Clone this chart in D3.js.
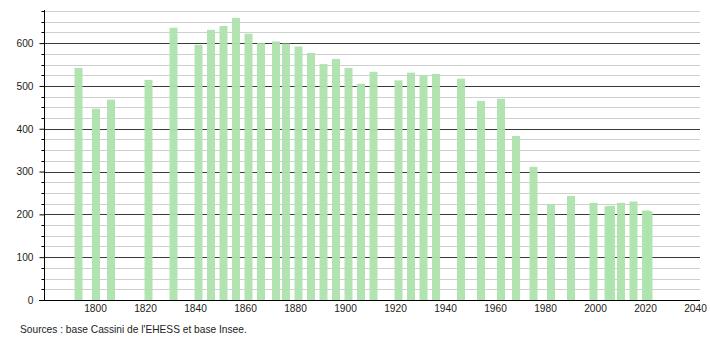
<!DOCTYPE html>
<html>
<head>
<meta charset="utf-8">
<script src="https://cdn.jsdelivr.net/npm/d3@7"></script>
<style>
  body { margin: 0; background: #fff; }
  svg { display: block; font-family: "Liberation Sans", Arial, sans-serif; }
  .grid-minor { stroke: #cfcfcf; stroke-width: 1; }
  .grid-major { stroke: #3a3a3a; stroke-width: 1; }
</style>
</head>
<body>
<svg width="710" height="340"></svg>
<script>
// années des recensements
const years = [1793, 1800, 1806, 1821, 1831, 1841, 1846, 1851, 1856, 1861,
    1866, 1872, 1876, 1881, 1886, 1891, 1896, 1901, 1906, 1911,
    1921, 1926, 1931, 1936, 1946, 1954, 1962, 1968, 1975, 1982,
    1990, 1999, 2005, 2006, 2010, 2015, 2020, 2021];
// population
const population = [542, 447, 468, 514, 636, 596, 631, 640, 659, 622,
    600, 604, 599, 592, 577, 551, 563, 542, 505, 533,
    513, 531, 525, 528, 517, 465, 470, 383, 311, 224,
    243, 227, 219, 220, 227, 230, 209, 207];
const xTicks = [1800, 1820, 1840, 1860, 1880, 1900, 1920, 1940, 1960, 1980, 2000, 2020, 2040];
const yTicks = [0, 100, 200, 300, 400, 500, 600];
const source = "Sources : base Cassini de l'EHESS et base Insee.";

const svg = d3.select("svg");
const plotLeft = 44, plotRight = 700, plotBottom = 300, plotTop = 10;

const scaleX = d3.scaleLinear().domain([1780, 2042]).range([45, 700]);
const scaleY = d3.scaleLinear().domain([0, 675]).range([plotBottom, 11]);

// lignes de grille (mineures tous les 25, majeures tous les 100)
const minor = d3.range(25, 676, 25).filter(v => v % 100 !== 0);
svg.append("g").selectAll("line")
    .data(minor)
    .enter()
    .append("line")
    .attr("class", "grid-minor")
    .attr("x1", plotLeft)
    .attr("x2", plotRight)
    .attr("y1", d => Math.round(scaleY(d)) + 0.5)
    .attr("y2", d => Math.round(scaleY(d)) + 0.5);

svg.append("g").selectAll("line")
    .data(yTicks.filter(v => v > 0))
    .enter()
    .append("line")
    .attr("class", "grid-major")
    .attr("x1", plotLeft)
    .attr("x2", plotRight)
    .attr("y1", d => Math.round(scaleY(d)) + 0.5)
    .attr("y2", d => Math.round(scaleY(d)) + 0.5);

// barres
svg.append("g").selectAll("rect")
    .data(years.map((y, i) => ({ year: y, value: population[i] })))
    .enter()
    .append("rect")
    .attr("x", d => scaleX(d.year) - 3)
    .attr("width", 8)
    .attr("y", d => scaleY(d.value))
    .attr("height", d => plotBottom - scaleY(d.value))
    .style("fill", "#ade3ad")
    .style("opacity", 0.95);

// axe vertical
const axisY = d3.axisLeft(scaleY).tickValues(yTicks).tickSize(5).tickPadding(6);
const gy = svg.append("g")
    .attr("transform", `translate(${plotLeft + 0.5}, 0)`)
    .call(axisY);
gy.select(".domain").remove();
gy.append("line")
    .attr("x1", 0).attr("x2", 0)
    .attr("y1", plotTop).attr("y2", plotBottom)
    .attr("stroke", "#000");
gy.selectAll("text")
    .style("font-size", "10.2px")
    .style("font-family", "Liberation Sans, Arial, sans-serif")
    .attr("fill", "#222");
gy.selectAll(".tick line").attr("stroke", "#000");
// petites graduations
gy.selectAll(".minor")
    .data(minor)
    .enter()
    .append("line")
    .attr("x1", -3).attr("x2", 0)
    .attr("y1", d => Math.round(scaleY(d)) + 0.5)
    .attr("y2", d => Math.round(scaleY(d)) + 0.5)
    .attr("stroke", "#000");

// axe horizontal
const axisX = d3.axisBottom(scaleX).tickValues(xTicks).tickSize(0).tickPadding(4).tickFormat(d3.format("d"));
const gx = svg.append("g")
    .attr("transform", `translate(0, ${plotBottom + 0.5})`)
    .call(axisX);
gx.select(".domain").remove();
gx.append("line")
    .attr("x1", 39).attr("x2", plotRight)
    .attr("y1", 0).attr("y2", 0)
    .attr("stroke", "#000");
gx.selectAll("text")
    .style("font-size", "10.2px")
    .style("font-family", "Liberation Sans, Arial, sans-serif")
    .attr("fill", "#222");

// source
svg.append("text")
    .attr("x", 20)
    .attr("y", 333)
    .style("font-size", "10.2px")
    .attr("fill", "#222")
    .text(source);
</script>
</body>
</html>
